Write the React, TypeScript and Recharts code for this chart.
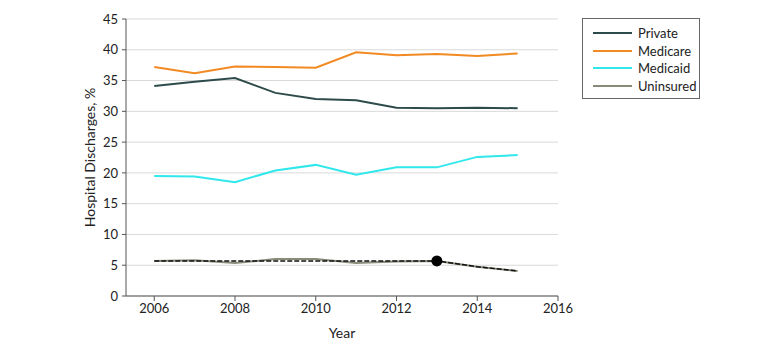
import React from "react";
import { LineChart, Line, XAxis, YAxis, CartesianGrid } from "recharts";

const years = [2006, 2007, 2008, 2009, 2010, 2011, 2012, 2013, 2014, 2015];
const privateVals = [34.1, 34.8, 35.4, 33.0, 32.0, 31.8, 30.6, 30.5, 30.6, 30.5];
const medicareVals = [37.2, 36.2, 37.3, 37.2, 37.1, 39.6, 39.1, 39.3, 39.0, 39.4];
const medicaidVals = [19.5, 19.4, 18.5, 20.4, 21.3, 19.7, 20.9, 20.9, 22.6, 22.9];
const uninsuredVals = [5.7, 5.8, 5.35, 6.0, 6.0, 5.35, 5.6, 5.7, 4.75, 4.05];
const trendVals = [5.7, 5.7, 5.7, 5.7, 5.7, 5.7, 5.7, 5.7, 4.75, 4.05];
const markerYear = 2013;

const xTicks = [2006, 2008, 2010, 2012, 2014, 2016];
const yTicks = [0, 5, 10, 15, 20, 25, 30, 35, 40, 45];

const series = [
  { key: "Private", color: "#2d4b4b" },
  { key: "Medicare", color: "#f28a24" },
  { key: "Medicaid", color: "#30e8ec" },
  { key: "Uninsured", color: "#8a8a78" },
];

const data = years.map((year, i) => ({
  year,
  Private: privateVals[i],
  Medicare: medicareVals[i],
  Medicaid: medicaidVals[i],
  Uninsured: uninsuredVals[i],
  Trend: trendVals[i],
}));

const font = "Lato, 'Liberation Sans', Arial, sans-serif";

const LegendBox = () => (
  <div
    style={{
      position: "absolute",
      left: 582,
      top: 18,
      border: "1px solid #666",
      width: 118,
      height: 81,
      boxSizing: "border-box",
      padding: "5px 0 0 10px",
      fontFamily: font,
      fontSize: 13,
      color: "#222",
      background: "#fff",
    }}
  >
    {series.map((s) => (
      <div key={s.key} style={{ display: "flex", alignItems: "center", height: 17.7 }}>
        <div style={{ width: 39, height: 2, background: s.color, marginRight: 6 }} />
        <span>{s.key}</span>
      </div>
    ))}
  </div>
);

const MarkerDot = (props: any) => {
  const { cx, cy, payload } = props;
  if (payload.year !== markerYear) return null;
  return <circle key="marker" cx={cx} cy={cy} r={5.5} fill="#000" />;
};

export default function App() {
  return (
    <div style={{ position: "absolute", left: 0, top: 0, width: 780, height: 351, background: "#fff" }}>
      <LineChart width={780} height={351} data={data} margin={{ top: 19, right: 222, bottom: 0, left: 59 }}>
        <CartesianGrid horizontal vertical={false} stroke="#d9d9d9" />
        <XAxis
          dataKey="year"
          type="number"
          height={55}
          domain={[2005.3, 2016]}
          ticks={xTicks}
          interval={0}
          allowDataOverflow
          stroke="#555"
          tickSize={5}
          tickMargin={3}
          tick={{ fill: "#222", fontSize: 13, fontFamily: font }}
          label={{ value: "Year", position: "insideBottom", offset: 13, fill: "#222", fontSize: 14, fontFamily: font }}
        />
        <YAxis
          width={67}
          domain={[0, 45]}
          ticks={yTicks}
          interval={0}
          stroke="#555"
          tickSize={4}
          tickMargin={4}
          tick={{ fill: "#222", fontSize: 13, fontFamily: font }}
          label={{
            value: "Hospital Discharges, %",
            angle: -90,
            position: "insideLeft",
            offset: 31,
            style: { textAnchor: "middle" },
            fill: "#222",
            fontSize: 14,
            fontFamily: font,
          }}
        />
        {series.map((s) => (
          <Line
            key={s.key}
            dataKey={s.key}
            type="linear"
            stroke={s.color}
            strokeWidth={2}
            dot={false}
            activeDot={false}
            isAnimationActive={false}
          />
        ))}
        <Line
          dataKey="Trend"
          type="linear"
          stroke="#111"
          strokeWidth={1.5}
          strokeDasharray="5 2"
          dot={<MarkerDot />}
          activeDot={false}
          legendType="none"
          isAnimationActive={false}
        />
      </LineChart>
      <LegendBox />
    </div>
  );
}
